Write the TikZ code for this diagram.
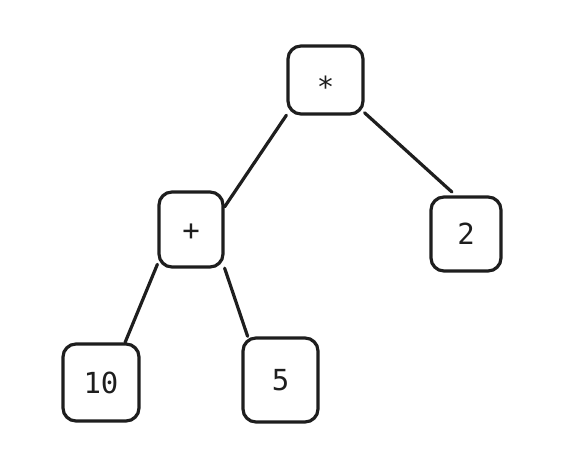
\documentclass[tikz,border=0pt]{standalone}
\usepackage{fontspec}
\setmonofont{DejaVu Sans Mono}
\definecolor{ink}{HTML}{1E1E1E}
\tikzset{
  box/.style={draw=ink, line width=3.2pt, rounded corners=13pt, inner sep=0pt,
    font=\ttfamily\fontsize{29}{31}\selectfont, text=ink,
    text height=21.1pt, text depth=0pt, align=center},
  edge/.style={draw=ink, line width=3.2pt, line cap=round}
}
\begin{document}
\begin{tikzpicture}[x=1pt,y=-1pt]
\useasboundingbox (0,0) rectangle (563,476);
\node[box, minimum width=75pt, minimum height=68pt] (star) at (325.5,80) {\raisebox{-7pt}{*}};
\node[box, minimum width=64pt, minimum height=75pt] (plus) at (191,229.5) {+};
\node[box, minimum width=70pt, minimum height=74pt] (two) at (466,234) {2};
\node[box, minimum width=76pt, minimum height=77pt] (ten) at (101,382.5) {10};
\node[box, minimum width=75pt, minimum height=84pt] (five) at (280.5,380) {5};
\draw[edge] (star.222) -- (plus.34);
\draw[edge, shorten >=5pt] (star.320) -- (two.105);
\draw[edge] (plus.226) -- (ten.59);
\draw[edge] (plus.311) -- (five.127);
\end{tikzpicture}
\end{document}
